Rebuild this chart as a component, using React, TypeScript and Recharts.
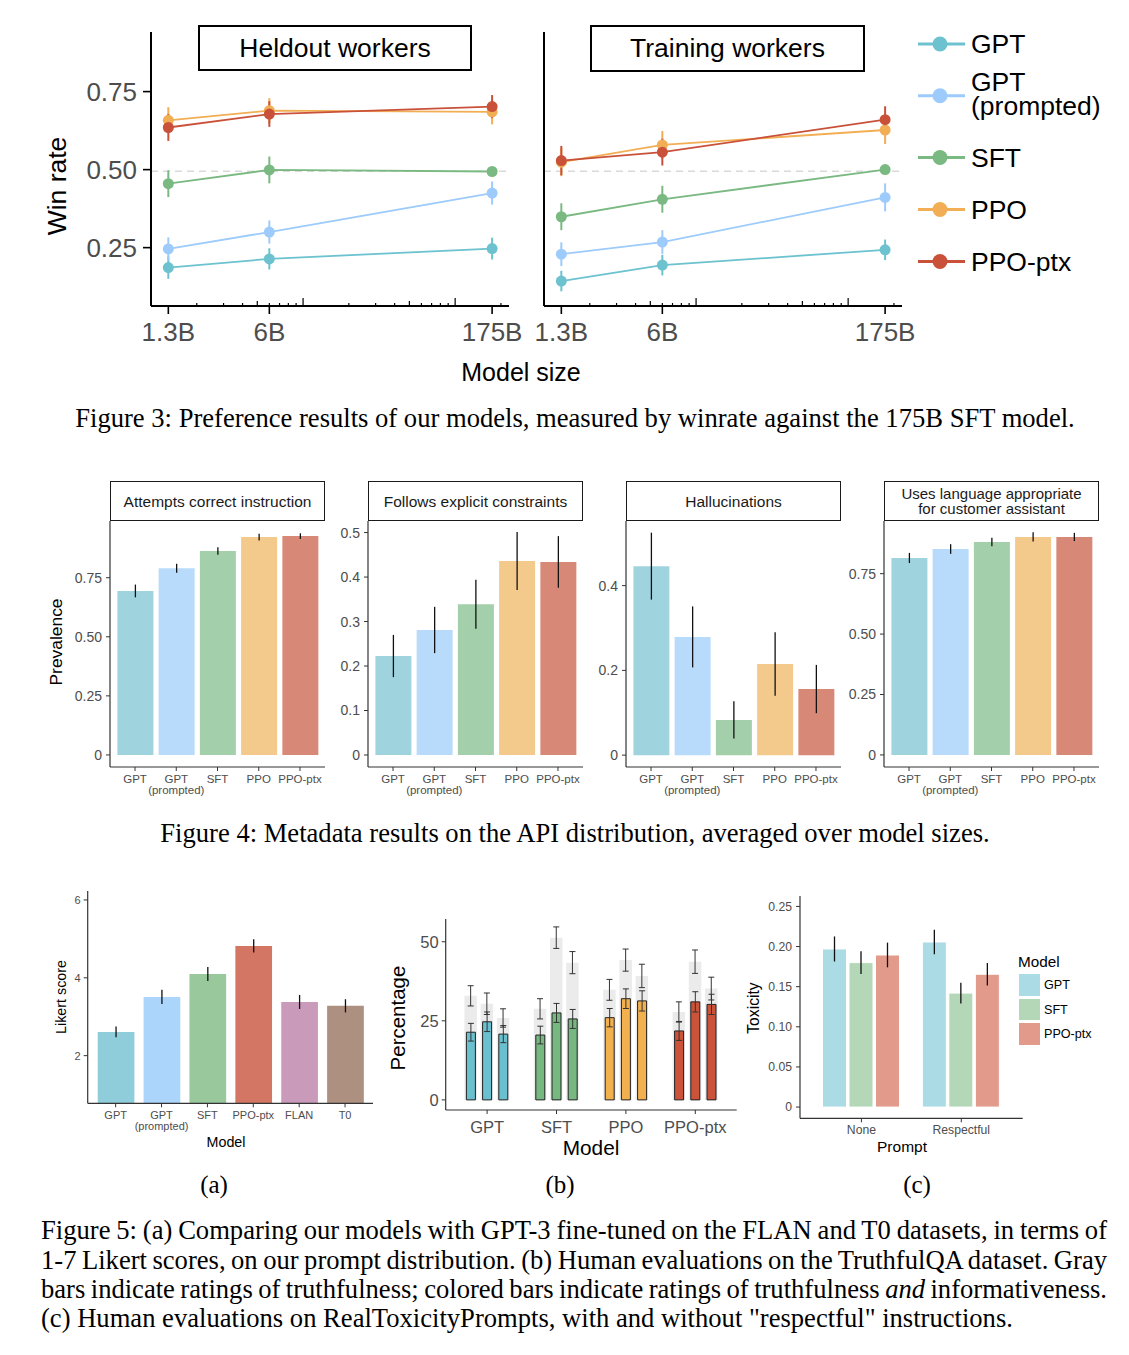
import React from "react";
import { LineChart, Line, XAxis, YAxis, ErrorBar, ReferenceLine, BarChart, Bar, Cell } from "recharts";

const SANS = '"Liberation Sans", Arial, Helvetica, sans-serif';
const SERIF = '"Liberation Serif", "Times New Roman", serif';
const TICK_GREY = "#4d4d4d";
const CAPTION_SIZE = 26.6;

// ---------- Figure 3: win rate vs model size ----------
const sizes = [1.3, 6, 175];
const sizeLabels = ["1.3B", "6B", "175B"];
const logMinor = [2, 3, 4, 5, 6, 7, 8, 9, 10, 20, 30, 40, 50, 60, 70, 80, 90, 100, 200];

const heldGpt = [0.186, 0.214, 0.247];
const heldGptErr = [0.036, 0.034, 0.035];
const heldPrompted = [0.246, 0.3, 0.425];
const heldPromptedErr = [0.037, 0.037, 0.037];
const heldSft = [0.455, 0.499, 0.494];
const heldSftErr = [0.043, 0.043, 0.01];
const heldPpo = [0.658, 0.689, 0.685];
const heldPpoErr = [0.042, 0.04, 0.04];
const heldPtx = [0.635, 0.678, 0.702];
const heldPtxErr = [0.043, 0.041, 0.037];

const trainGpt = [0.143, 0.194, 0.243];
const trainGptErr = [0.033, 0.033, 0.033];
const trainPrompted = [0.229, 0.268, 0.411];
const trainPromptedErr = [0.038, 0.038, 0.045];
const trainSft = [0.349, 0.405, 0.5];
const trainSftErr = [0.043, 0.043, 0.01];
const trainPpo = [0.524, 0.579, 0.627];
const trainPpoErr = [0.045, 0.045, 0.045];
const trainPtx = [0.529, 0.556, 0.66];
const trainPtxErr = [0.047, 0.043, 0.043];

const lineKeys = ["gpt", "prompted", "sft", "ppo", "ptx"];
const lineColors = ["#6CC2CF", "#9DCBFB", "#7AB982", "#F2AE54", "#C9513A"];
const legendLabels = [["GPT"], ["GPT", "(prompted)"], ["SFT"], ["PPO"], ["PPO-ptx"]];

function winRows(vals: number[][], errs: number[][]) {
  return sizes.map((s, i) => {
    const row: any = { size: s };
    lineKeys.forEach((k, j) => {
      row[k] = vals[j][i];
      row[k + "Err"] = errs[j][i];
    });
    return row;
  });
}

const heldRows = winRows(
  [heldGpt, heldPrompted, heldSft, heldPpo, heldPtx],
  [heldGptErr, heldPromptedErr, heldSftErr, heldPpoErr, heldPtxErr]
);
const trainRows = winRows(
  [trainGpt, trainPrompted, trainSft, trainPpo, trainPtx],
  [trainGptErr, trainPromptedErr, trainSftErr, trainPpoErr, trainPtxErr]
);

// ---------- Figure 4: metadata prevalence ----------
const metaModels = ["GPT", "GPT (prompted)", "SFT", "PPO", "PPO-ptx"];
const metaColors = ["#9FD4DF", "#B8DBFC", "#A3CFAA", "#F4C98C", "#D88877"];
const attemptsVals = [0.694, 0.79, 0.863, 0.922, 0.926];
const attemptsErr = [0.027, 0.019, 0.016, 0.014, 0.012];
const constraintsVals = [0.2225, 0.281, 0.339, 0.436, 0.434];
const constraintsErr = [0.0475, 0.052, 0.055, 0.065, 0.058];
const halluVals = [0.446, 0.279, 0.083, 0.215, 0.156];
const halluErr = [0.079, 0.072, 0.044, 0.075, 0.057];
const languageVals = [0.815, 0.852, 0.881, 0.902, 0.902];
const languageErr = [0.021, 0.02, 0.018, 0.019, 0.017];

// ---------- Figure 5a: Likert ----------
const likertModels = ["GPT", "GPT (prompted)", "SFT", "PPO-ptx", "FLAN", "T0"];
const likertColors = ["#8ECDD9", "#ABD5FB", "#98C89C", "#D37764", "#C99ABA", "#AE9080"];
const likertVals = [2.61, 3.51, 4.1, 4.82, 3.38, 3.28];
const likertErr = [0.14, 0.18, 0.18, 0.17, 0.18, 0.17];

// ---------- Figure 5b: TruthfulQA ----------
const tqaModels = ["GPT", "SFT", "PPO", "PPO-ptx"];
const tqaColors = ["#6BC0CF", "#77B880", "#F3B04F", "#CB5339"];
const tqaInfo13 = [21.4, 20.5, 26.0, 21.8];
const tqaInfo6 = [24.7, 27.5, 32.0, 31.0];
const tqaInfo175 = [20.8, 25.6, 31.3, 30.2];
const tqaInfoErr13 = [2.8, 2.8, 2.9, 3.0];
const tqaInfoErr6 = [3.1, 3.0, 3.1, 3.2];
const tqaInfoErr175 = [2.7, 3.0, 3.2, 3.2];
const tqaTrue13 = [32.9, 28.8, 34.8, 27.8];
const tqaTrue6 = [30.4, 51.3, 44.2, 43.7];
const tqaTrue175 = [25.9, 43.4, 39.2, 35.2];
const tqaTrueErr13 = [3.2, 3.2, 3.3, 3.2];
const tqaTrueErr6 = [3.4, 3.4, 3.5, 3.7];
const tqaTrueErr175 = [2.9, 3.5, 3.7, 3.6];

const tqaRows = tqaModels.map((m, i) => ({
  model: m,
  i13: tqaInfo13[i], i6: tqaInfo6[i], i175: tqaInfo175[i],
  ie13: tqaInfoErr13[i], ie6: tqaInfoErr6[i], ie175: tqaInfoErr175[i],
  t13: tqaTrue13[i], t6: tqaTrue6[i], t175: tqaTrue175[i],
  te13: tqaTrueErr13[i], te6: tqaTrueErr6[i], te175: tqaTrueErr175[i],
}));

// ---------- Figure 5c: toxicity ----------
const toxPrompts = ["None", "Respectful"];
const toxModels = ["GPT", "SFT", "PPO-ptx"];
const toxColors = ["#ABDBE4", "#B3D7B7", "#E29A8A"];
const toxGpt = [0.197, 0.2057];
const toxGptErr = [0.0156, 0.0152];
const toxSft = [0.18, 0.142];
const toxSftErr = [0.0143, 0.013];
const toxPtx = [0.1895, 0.1655];
const toxPtxErr = [0.0154, 0.014];

const toxRows = toxPrompts.map((p, i) => ({
  prompt: p,
  gpt: toxGpt[i], gptErr: toxGptErr[i],
  sft: toxSft[i], sftErr: toxSftErr[i],
  ptx: toxPtx[i], ptxErr: toxPtxErr[i],
}));

// ---------- helpers ----------
function Txt({ x, y, size, children, anchor = "middle", rotate = 0, family = SANS, color = "#000", style = {} }: any) {
  const tx = anchor === "middle" ? "-50%" : anchor === "end" ? "-100%" : "0";
  return (
    <div
      style={{
        position: "absolute",
        left: x,
        top: y,
        fontFamily: family,
        fontSize: size,
        color,
        lineHeight: 1,
        whiteSpace: "nowrap",
        transform: `translate(${tx}, -50%)${rotate ? ` rotate(${rotate}deg)` : ""}`,
        ...style,
      }}
    >
      {children}
    </div>
  );
}

function LogTick(props: any) {
  const { x, y, payload } = props;
  const v = payload.value;
  const idx = sizes.indexOf(v);
  const parts: any[] = [];
  if (idx >= 0) {
    parts.push(<line key="maj" x1={x} x2={x} y1={y} y2={y + 8} stroke="#000" strokeWidth={1.6} />);
    parts.push(
      <text key="lab" x={x} y={y + 35} textAnchor="middle" fontSize={26} fill={TICK_GREY} fontFamily={SANS}>
        {sizeLabels[idx]}
      </text>
    );
  }
  if (logMinor.includes(v)) {
    const len = v === 10 || v === 100 ? 8 : v === 5 || v === 50 ? 5 : 3;
    parts.push(<line key="min" x1={x} x2={x} y1={y} y2={y - len} stroke="#000" strokeWidth={1.2} />);
  }
  return <g>{parts}</g>;
}

const allLogTicks = [...sizes, ...logMinor].filter((v, i, a) => a.indexOf(v) === i).sort((a, b) => a - b);

function WinPanel({ left, rows, yAxisWidth, width, showTicks }: any) {
  return (
    <div style={{ position: "absolute", left, top: 0 }}>
      <LineChart
        width={width}
        height={360}
        data={rows}
        margin={{ top: 32, right: width - yAxisWidth - 358, left: 0, bottom: 0 }}
      >
        <ReferenceLine y={0.495} stroke="#d9d9d9" strokeDasharray="7 5" strokeWidth={1.5} />
        <XAxis
          dataKey="size"
          type="number"
          scale="log"
          domain={[1, 226]}
          allowDataOverflow
          ticks={allLogTicks}
          interval={0}
          tick={(p: any) => <LogTick {...p} />}
          tickLine={false}
          tickSize={0}
          tickMargin={0}
          height={54}
          axisLine={{ stroke: "#000", strokeWidth: 2 }}
        />
        <YAxis
          type="number"
          domain={[0.063, 0.941]}
          allowDataOverflow
          ticks={[0.25, 0.5, 0.75]}
          tickFormatter={(v: number) => v.toFixed(2)}
          width={yAxisWidth}
          tick={showTicks ? { fontSize: 26, fill: TICK_GREY, fontFamily: SANS } : false}
          tickLine={showTicks ? { stroke: "#000", strokeWidth: 1.6 } : false}
          tickSize={8}
          tickMargin={6}
          axisLine={{ stroke: "#000", strokeWidth: 2 }}
        />
        {lineKeys.map((k, j) => (
          <Line
            key={k}
            dataKey={k}
            type="linear"
            stroke={lineColors[j]}
            strokeWidth={1.8}
            dot={{ r: 5.5, fill: lineColors[j], stroke: lineColors[j], strokeWidth: 0 }}
            activeDot={false}
            isAnimationActive={false}
          >
            <ErrorBar dataKey={k + "Err"} width={0} stroke={lineColors[j]} strokeWidth={2} direction="y" isAnimationActive={false} />
          </Line>
        ))}
      </LineChart>
    </div>
  );
}

function CatTick(props: any) {
  const { x, y, payload, fs, color, dy1, dy2 } = props;
  const v = String(payload.value);
  const lines = v === "GPT (prompted)" ? ["GPT", "(prompted)"] : [v];
  return (
    <text x={x} y={y} textAnchor="middle" fontSize={fs} fill={color} fontFamily={SANS}>
      {lines.map((l, i) => (
        <tspan key={i} x={x} dy={i === 0 ? dy1 : dy2}>
          {l}
        </tspan>
      ))}
    </text>
  );
}

function MetaPanel({ plotLeft, title, vals, errs, domain, ticks, digits }: any) {
  const rows = metaModels.map((m, i) => ({ model: m, value: vals[i], err: errs[i] }));
  return (
    <>
      <div
        style={{
          position: "absolute",
          left: plotLeft,
          top: 481,
          width: 215,
          height: 40,
          boxSizing: "border-box",
          border: "1px solid #1a1a1a",
          background: "#fff",
          display: "flex",
          alignItems: "center",
          justifyContent: "center",
          textAlign: "center",
          fontFamily: SANS,
          fontSize: title.length > 1 ? 15 : 15.5,
          lineHeight: "15px",
          color: "#1a1a1a",
        }}
      >
        <div>
          {title.map((t: string, i: number) => (
            <div key={i}>{t}</div>
          ))}
        </div>
      </div>
      <div style={{ position: "absolute", left: plotLeft - 55, top: 510 }}>
        <BarChart width={280} height={300} data={rows} margin={{ top: 11, right: 10, left: 0, bottom: 0 }}>
          <XAxis
            dataKey="model"
            type="category"
            padding={{ left: 4.4, right: 4.4 }}
            interval={0}
            height={43}
            tickSize={4}
            tickMargin={0}
            tickLine={{ stroke: "#333" }}
            axisLine={{ stroke: "#333", strokeWidth: 1.2 }}
            tick={(p: any) => <CatTick {...p} fs={11.5} color={TICK_GREY} dy1={12} dy2={11} />}
          />
          <YAxis
            type="number"
            domain={domain}
            allowDataOverflow
            ticks={ticks}
            width={55}
            tickFormatter={(v: number) => (v === 0 ? "0" : v.toFixed(digits))}
            tick={{ fontSize: 14, fill: TICK_GREY, fontFamily: SANS }}
            tickSize={4}
            tickMargin={4}
            tickLine={{ stroke: "#333" }}
            axisLine={{ stroke: "#333", strokeWidth: 1.2 }}
          />
          <Bar dataKey="value" barSize={36} isAnimationActive={false}>
            {rows.map((r, i) => (
              <Cell key={r.model} fill={metaColors[i]} />
            ))}
            <ErrorBar dataKey="err" width={0} stroke="#111" strokeWidth={1.3} direction="y" isAnimationActive={false} />
          </Bar>
        </BarChart>
      </div>
    </>
  );
}

function LikertChart() {
  const rows = likertModels.map((m, i) => ({ model: m, value: likertVals[i], err: likertErr[i] }));
  return (
    <div style={{ position: "absolute", left: 40, top: 880 }}>
      <BarChart width={345} height={260} data={rows} margin={{ top: 11, right: 12, left: 0, bottom: 0 }}>
        <XAxis
          dataKey="model"
          type="category"
          padding={{ left: 5, right: 5 }}
          interval={0}
          height={36.7}
          tickSize={4}
          tickMargin={0}
          tickLine={{ stroke: "#333" }}
          axisLine={{ stroke: "#333", strokeWidth: 1.2 }}
          tick={(p: any) => <CatTick {...p} fs={11} color={TICK_GREY} dy1={11.5} dy2={11} />}
        />
        <YAxis
          type="number"
          domain={[0.776, 6.23]}
          allowDataOverflow
          ticks={[2, 4, 6]}
          width={47.7}
          tick={{ fontSize: 11, fill: TICK_GREY, fontFamily: SANS }}
          tickSize={4}
          tickMargin={3}
          tickLine={{ stroke: "#333" }}
          axisLine={{ stroke: "#333", strokeWidth: 1.2 }}
        />
        <Bar dataKey="value" barSize={36.7} isAnimationActive={false}>
          {rows.map((r, i) => (
            <Cell key={r.model} fill={likertColors[i]} />
          ))}
          <ErrorBar dataKey="err" width={0} stroke="#111" strokeWidth={1.3} direction="y" isAnimationActive={false} />
        </Bar>
      </BarChart>
    </div>
  );
}

function TqaChart({ layer }: { layer: "true" | "info" }) {
  const front = layer === "info";
  const keys = front ? ["i13", "i6", "i175"] : ["t13", "t6", "t175"];
  const errKeys = front ? ["ie13", "ie6", "ie175"] : ["te13", "te6", "te175"];
  return (
    <div style={{ position: "absolute", left: 385, top: 905 }}>
      <BarChart
        width={360}
        height={240}
        data={tqaRows}
        margin={{ top: 14, right: 8.3, left: 0, bottom: 0 }}
        barGap={front ? 7.2 : 3.7}
      >
        <XAxis
          dataKey="model"
          type="category"
          padding={{ left: 6.7, right: 6.7 }}
          interval={0}
          height={35}
          tickSize={4}
          tickMargin={0}
          tickLine={front ? false : { stroke: "#333" }}
          axisLine={front ? false : { stroke: "#333", strokeWidth: 1.2 }}
          tick={front ? false : (p: any) => <CatTick {...p} fs={16.5} color={TICK_GREY} dy1={18.6} dy2={16} />}
        />
        <YAxis
          type="number"
          domain={[-3.2, 57.2]}
          allowDataOverflow
          ticks={[0, 25, 50]}
          width={60.7}
          tick={front ? false : { fontSize: 16.5, fill: TICK_GREY, fontFamily: SANS }}
          tickSize={4}
          tickMargin={3}
          tickLine={front ? false : { stroke: "#333" }}
          axisLine={front ? false : { stroke: "#333", strokeWidth: 1.2 }}
        />
        {keys.map((k, j) => (
          <Bar
            key={k}
            dataKey={k}
            barSize={front ? 9 : 12.5}
            fill="#ebebeb"
            stroke={front ? "#222" : "none"}
            strokeWidth={1}
            isAnimationActive={false}
          >
            {tqaRows.map((r, i) => (
              <Cell key={r.model} fill={front ? tqaColors[i] : "#ebebeb"} />
            ))}
            <ErrorBar dataKey={errKeys[j]} width={3} stroke="#333" strokeWidth={1} direction="y" isAnimationActive={false} />
          </Bar>
        ))}
      </BarChart>
    </div>
  );
}

function ToxChart() {
  const keys = ["gpt", "sft", "ptx"];
  return (
    <div style={{ position: "absolute", left: 745, top: 885 }}>
      <BarChart width={285} height={260} data={toxRows} margin={{ top: 11, right: 7.3, left: 0, bottom: 0 }} barGap={2.5}>
        <XAxis
          dataKey="prompt"
          type="category"
          padding={{ left: 11.5, right: 11.5 }}
          interval={0}
          height={26.7}
          tickSize={4}
          tickMargin={0}
          tickLine={{ stroke: "#333" }}
          axisLine={{ stroke: "#333", strokeWidth: 1.2 }}
          tick={(p: any) => <CatTick {...p} fs={12.2} color={TICK_GREY} dy1={12} dy2={11} />}
        />
        <YAxis
          type="number"
          domain={[-0.014, 0.263]}
          allowDataOverflow
          ticks={[0, 0.05, 0.1, 0.15, 0.2, 0.25]}
          tickFormatter={(v: number) => (v === 0 ? "0" : v.toFixed(2))}
          width={55}
          tick={{ fontSize: 12.2, fill: TICK_GREY, fontFamily: SANS }}
          tickSize={4}
          tickMargin={4}
          tickLine={{ stroke: "#333" }}
          axisLine={{ stroke: "#333", strokeWidth: 1.2 }}
        />
        {keys.map((k, j) => (
          <Bar key={k} dataKey={k} barSize={24} fill={toxColors[j]} stroke="#fff" strokeWidth={1} isAnimationActive={false}>
            <ErrorBar dataKey={k + "Err"} width={0} stroke="#111" strokeWidth={1.3} direction="y" isAnimationActive={false} />
          </Bar>
        ))}
      </BarChart>
    </div>
  );
}

function Fig3Legend() {
  const ys = [44, 95.7, 157.5, 209.5, 261.5];
  return (
    <svg style={{ position: "absolute", left: 905, top: 0 }} width={224} height={290}>
      {legendLabels.map((lab, i) => (
        <g key={i}>
          <line x1={13} x2={60} y1={ys[i]} y2={ys[i]} stroke={lineColors[i]} strokeWidth={3} />
          <circle cx={35} cy={ys[i]} r={7.5} fill={lineColors[i]} />
          {lab.length === 1 ? (
            <text x={66} y={ys[i] + 9} fontSize={26.5} fontFamily={SANS} fill="#000">
              {lab[0]}
            </text>
          ) : (
            <text x={66} y={ys[i] - 5} fontSize={26.5} fontFamily={SANS} fill="#000">
              <tspan x={66}>{lab[0]}</tspan>
              <tspan x={66} dy={24}>
                {lab[1]}
              </tspan>
            </text>
          )}
        </g>
      ))}
    </svg>
  );
}

function ToxLegend() {
  const tops = [973, 997.5, 1022];
  return (
    <>
      <Txt x={1018} y={962} size={15.3} anchor="start">
        Model
      </Txt>
      {toxModels.map((m, i) => (
        <React.Fragment key={m}>
          <div
            style={{
              position: "absolute",
              left: 1018,
              top: tops[i],
              width: 23,
              height: 23.5,
              boxSizing: "border-box",
              background: toxColors[i],
              border: "1px solid #fff",
            }}
          />
          <Txt x={1044} y={tops[i] + 12} size={12.6} anchor="start">
            {m}
          </Txt>
        </React.Fragment>
      ))}
    </>
  );
}

const captionLines = [
  "Figure 5: (a) Comparing our models with GPT-3 fine-tuned on the FLAN and T0 datasets, in terms of",
  "1-7 Likert scores, on our prompt distribution. (b) Human evaluations on the TruthfulQA dataset. Gray",
];

const justLine: React.CSSProperties = {
  position: "absolute",
  left: 41,
  width: 1066,
  height: 28,
  fontFamily: SERIF,
  fontSize: CAPTION_SIZE,
  lineHeight: "28px",
  textAlign: "justify",
  textAlignLast: "justify",
  whiteSpace: "nowrap",
  wordSpacing: -2,
};

export default function App() {
  return (
    <div
      style={{
        position: "absolute",
        left: 0,
        top: 0,
        width: 1129,
        height: 1355,
        background: "#fff",
        overflow: "hidden",
      }}
    >
      {/* Figure 3 */}
      <WinPanel left={0} rows={heldRows} yAxisWidth={151} width={530} showTicks />
      <WinPanel left={520} rows={trainRows} yAxisWidth={24} width={400} showTicks={false} />
      <div
        style={{
          position: "absolute", left: 198, top: 25, width: 274, height: 46, boxSizing: "border-box",
          border: "2px solid #000", display: "flex", alignItems: "center", justifyContent: "center",
          fontFamily: SANS, fontSize: 26.5, background: "#fff",
        }}
      >
        Heldout workers
      </div>
      <div
        style={{
          position: "absolute", left: 590, top: 25, width: 275, height: 47, boxSizing: "border-box",
          border: "2px solid #000", display: "flex", alignItems: "center", justifyContent: "center",
          fontFamily: SANS, fontSize: 26.5, background: "#fff",
        }}
      >
        Training workers
      </div>
      <Fig3Legend />
      <Txt x={57} y={186} size={26.5} rotate={-90}>
        Win rate
      </Txt>
      <Txt x={521} y={372} size={25}>
        Model size
      </Txt>
      <Txt x={575} y={418} size={CAPTION_SIZE} family={SERIF}>
        Figure 3: Preference results of our models, measured by winrate against the 175B SFT model.
      </Txt>

      {/* Figure 4 */}
      <MetaPanel plotLeft={110} title={["Attempts correct instruction"]} vals={attemptsVals} errs={attemptsErr}
        domain={[-0.051, 0.99]} ticks={[0, 0.25, 0.5, 0.75]} digits={2} />
      <MetaPanel plotLeft={368} title={["Follows explicit constraints"]} vals={constraintsVals} errs={constraintsErr}
        domain={[-0.027, 0.526]} ticks={[0, 0.1, 0.2, 0.3, 0.4, 0.5]} digits={1} />
      <MetaPanel plotLeft={626} title={["Hallucinations"]} vals={halluVals} errs={halluErr}
        domain={[-0.028, 0.5525]} ticks={[0, 0.2, 0.4]} digits={1} />
      <MetaPanel plotLeft={884} title={["Uses language appropriate", "for customer assistant"]} vals={languageVals}
        errs={languageErr} domain={[-0.05, 0.968]} ticks={[0, 0.25, 0.5, 0.75]} digits={2} />
      <Txt x={57} y={642} size={17.4} rotate={-90}>
        Prevalence
      </Txt>
      <Txt x={575} y={833} size={CAPTION_SIZE} family={SERIF}>
        Figure 4: Metadata results on the API distribution, averaged over model sizes.
      </Txt>

      {/* Figure 5 */}
      <LikertChart />
      <Txt x={61} y={997} size={14.3} rotate={-90}>
        Likert score
      </Txt>
      <Txt x={226} y={1142} size={14.3}>
        Model
      </Txt>

      <TqaChart layer="true" />
      <TqaChart layer="info" />
      <Txt x={398} y={1018} size={20.5} rotate={-90}>
        Percentage
      </Txt>
      <Txt x={591} y={1148} size={20.8}>
        Model
      </Txt>

      <ToxChart />
      <ToxLegend />
      <Txt x={754} y={1008} size={15.7} rotate={-90}>
        Toxicity
      </Txt>
      <Txt x={902} y={1147} size={15.5}>
        Prompt
      </Txt>

      <Txt x={214} y={1184} size={25} family={SERIF}>(a)</Txt>
      <Txt x={560} y={1184} size={25} family={SERIF}>(b)</Txt>
      <Txt x={917} y={1184} size={25} family={SERIF}>(c)</Txt>

      {captionLines.map((l, i) => (
        <div key={i} style={{ ...justLine, top: 1230 + i * 29.5 - 14 }}>
          {l}
        </div>
      ))}
      <div style={{ ...justLine, top: 1289 - 14 }}>
        bars indicate ratings of truthfulness; colored bars indicate ratings of truthfulness <i>and</i> informativeness.
      </div>
      <div
        style={{
          position: "absolute", left: 41, top: 1318 - 14, height: 28,
          fontFamily: SERIF, fontSize: CAPTION_SIZE, lineHeight: "28px", whiteSpace: "nowrap",
        }}
      >
        (c) Human evaluations on RealToxicityPrompts, with and without "respectful" instructions.
      </div>
    </div>
  );
}
